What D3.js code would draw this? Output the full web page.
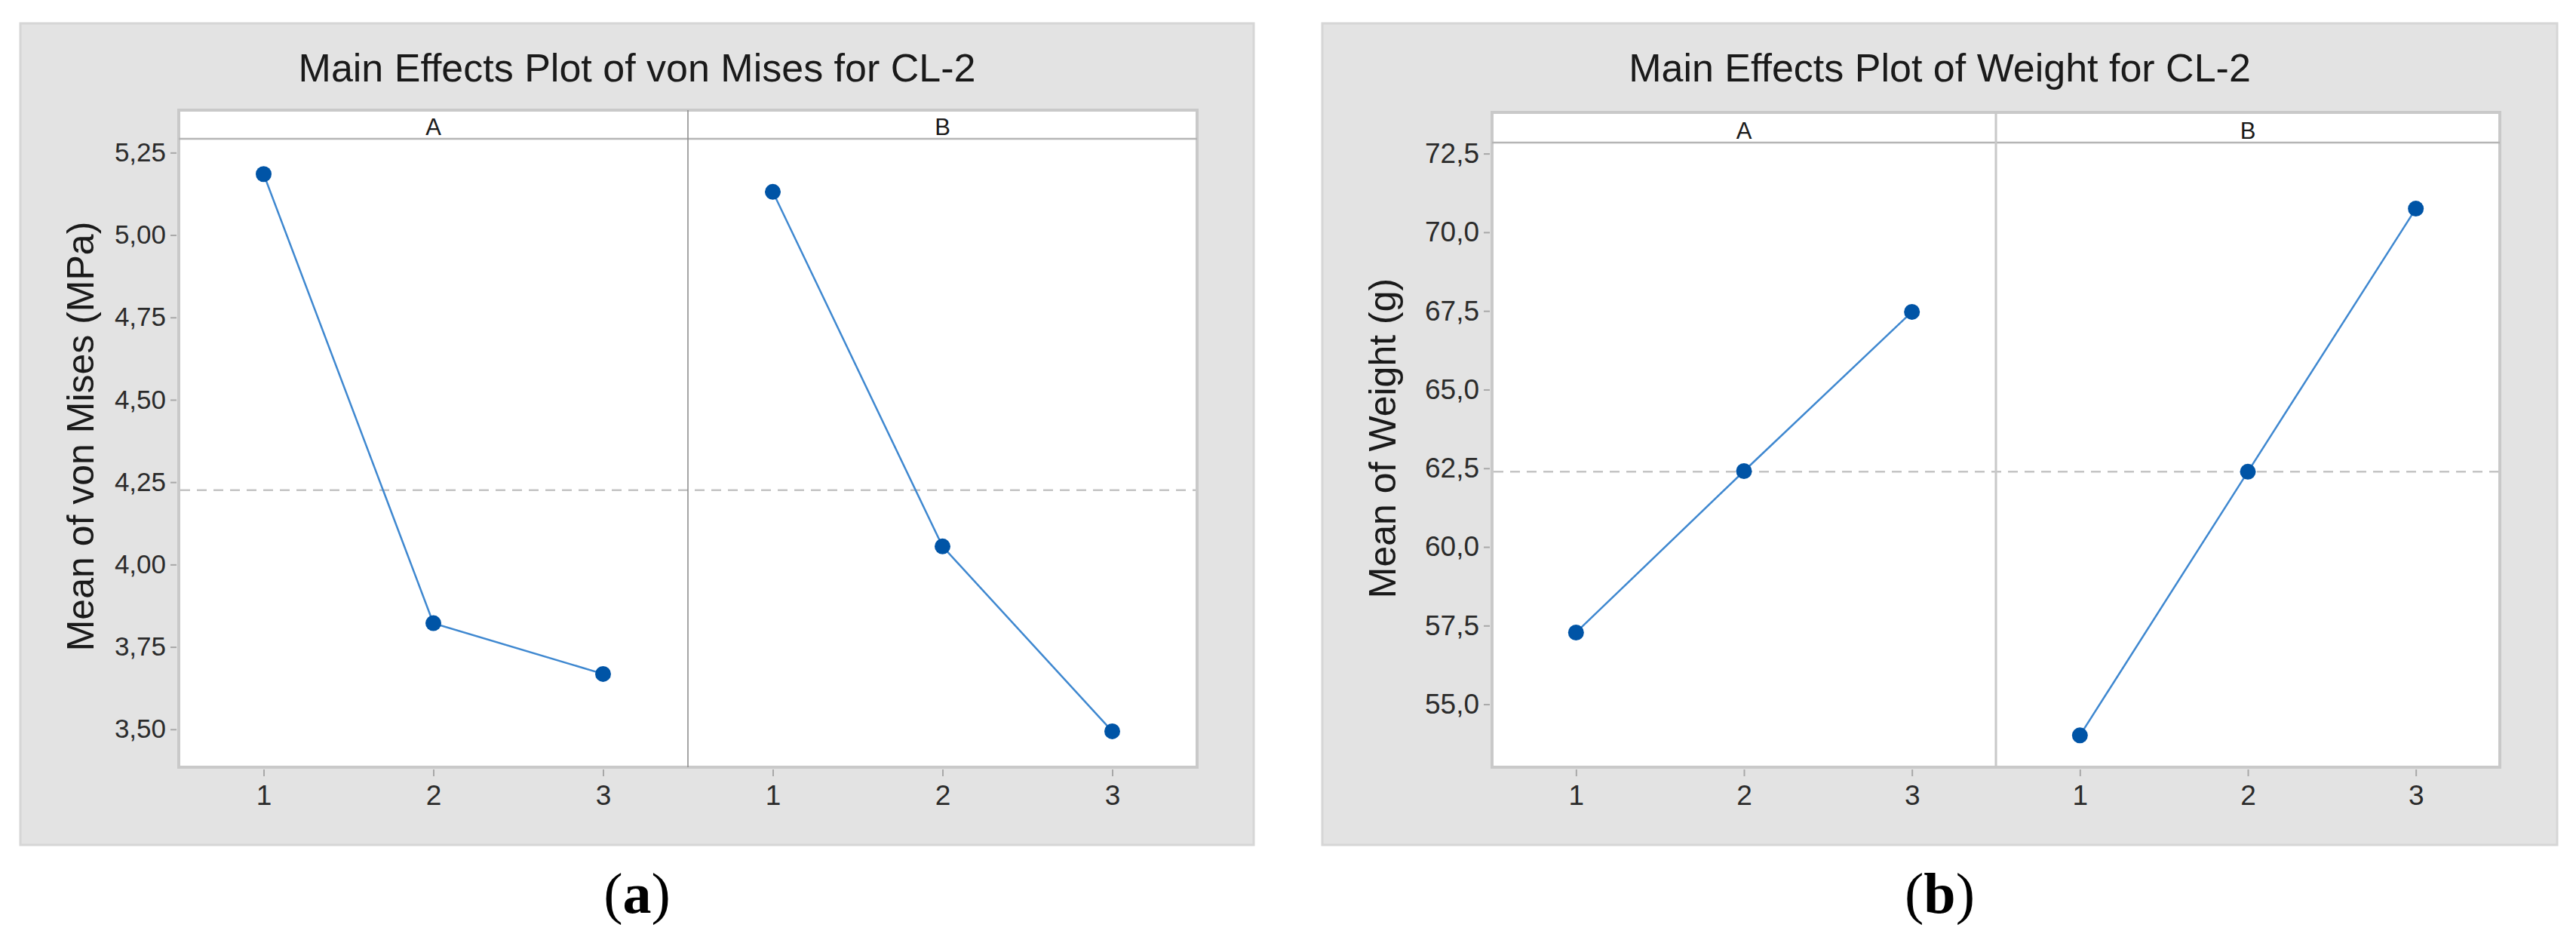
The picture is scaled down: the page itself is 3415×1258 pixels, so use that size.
<!DOCTYPE html>
<html>
<head>
<meta charset="utf-8">
<script src="https://cdn.jsdelivr.net/npm/d3@7"></script>
<style>
  html, body { margin: 0; padding: 0; background: #ffffff; }
  svg { display: block; }
</style>
</head>
<body>
<svg id="chart" width="3415" height="1258"></svg>
<script>
// ---------------- data ----------------
const levels = ["1", "2", "3"];
const factors = ["A", "B"];

const vonMisesTitle = "Main Effects Plot of von Mises for CL-2";
const vonMisesLabel = "Mean of von Mises (MPa)";
const vonMisesA = [5.185, 3.822, 3.668];
const vonMisesB = [5.131, 4.055, 3.494];
const vonMisesMean = 4.226;
const vonMisesTicks = [3.50, 3.75, 4.00, 4.25, 4.50, 4.75, 5.00, 5.25];

const weightTitle = "Main Effects Plot of Weight for CL-2";
const weightLabel = "Mean of Weight (g)";
const weightA = [57.28, 62.41, 67.47];
const weightB = [54.01, 62.39, 70.75];
const weightMean = 62.39;
const weightTicks = [55.0, 57.5, 60.0, 62.5, 65.0, 67.5, 70.0, 72.5];

const panelTags = ["a", "b"];

// ---------------- layout ----------------
const loc = d3.formatLocale({decimal: ",", thousands: ".", grouping: [3], currency: ["", ""]});

const panels = [
  {
    title: vonMisesTitle, ylabel: vonMisesLabel, series: [vonMisesA, vonMisesB], mean: vonMisesMean,
    ticks: vonMisesTicks, fmt: loc.format(".2f"), tag: panelTags[0],
    box: {l: 27, r: 1662, t: 31, b: 1120},
    frame: {l: 237, r: 1587, t: 146, strip: 184, b: 1017},
    domain: [3.385, 5.292], tickFont: 35, divColor: "#8f8f8f", divWidth: 1.6
  },
  {
    title: weightTitle, ylabel: weightLabel, series: [weightA, weightB], mean: weightMean,
    ticks: weightTicks, fmt: loc.format(".1f"), tag: panelTags[1],
    box: {l: 1753, r: 3390, t: 31, b: 1120},
    frame: {l: 1978, r: 3314, t: 149, strip: 189, b: 1017},
    domain: [53.0, 72.85], tickFont: 37, divColor: "#c8c8c8", divWidth: 3
  }
];

const svg = d3.select("#chart");
const sans = "'Liberation Sans', Arial, Helvetica, sans-serif";

panels.forEach(p => {
  const g = svg.append("g");
  const B = p.box, F = p.frame;

  // gray background panel
  g.append("rect")
    .attr("x", B.l).attr("y", B.t)
    .attr("width", B.r - B.l).attr("height", B.b - B.t)
    .attr("fill", "#e3e3e3").attr("stroke", "#d6d6d6").attr("stroke-width", 3);

  // title
  g.append("text")
    .attr("x", (B.l + B.r) / 2).attr("y", 108)
    .attr("text-anchor", "middle")
    .attr("font-family", sans).attr("font-size", 52)
    .attr("fill", "#1a1a1a")
    .text(p.title);

  // plot frame (white)
  g.append("rect")
    .attr("x", F.l).attr("y", F.t)
    .attr("width", F.r - F.l).attr("height", F.b - F.t)
    .attr("fill", "#ffffff").attr("stroke", "#c9c9c9").attr("stroke-width", 4);

  // strip bottom line
  g.append("line")
    .attr("x1", F.l).attr("x2", F.r).attr("y1", F.strip).attr("y2", F.strip)
    .attr("stroke", "#b5b5b5").attr("stroke-width", 2.5);

  const mid = (F.l + F.r) / 2;

  // y scale & axis
  const y = d3.scaleLinear().domain(p.domain).range([F.b, F.strip]);
  const yAxis = g.append("g")
    .attr("transform", `translate(${F.l - 3},0)`)
    .call(d3.axisLeft(y).tickValues(p.ticks).tickFormat(p.fmt).tickSize(8).tickPadding(6));
  yAxis.select(".domain").remove();
  yAxis.selectAll(".tick line").attr("stroke", "#a8a8a8").attr("stroke-width", 2);
  yAxis.selectAll(".tick text")
    .attr("font-family", sans).attr("font-size", p.tickFont).attr("fill", "#2b2b2b");

  // y label
  g.append("text")
    .attr("transform", `translate(${B.l + 97},${(F.strip + F.b) / 2 - 22}) rotate(-90)`)
    .attr("text-anchor", "middle")
    .attr("font-family", sans).attr("font-size", 50)
    .attr("fill", "#1a1a1a")
    .text(p.ylabel);

  // mean reference line (dashed)
  g.append("line")
    .attr("x1", F.l + 2).attr("x2", F.r - 2)
    .attr("y1", y(p.mean)).attr("y2", y(p.mean))
    .attr("stroke", "#c4c4c4").attr("stroke-width", 2.5)
    .attr("stroke-dasharray", "13 9");

  // divider between facets
  g.append("line")
    .attr("x1", mid).attr("x2", mid).attr("y1", F.t).attr("y2", F.b)
    .attr("stroke", p.divColor).attr("stroke-width", p.divWidth);

  factors.forEach((f, i) => {
    const x0 = i === 0 ? F.l : mid;
    const x1 = i === 0 ? mid : F.r;
    const x = d3.scalePoint().domain(levels).range([x0, x1]).padding(0.5);

    // strip label
    g.append("text")
      .attr("x", (x0 + x1) / 2).attr("y", F.strip - 5)
      .attr("text-anchor", "middle")
      .attr("font-family", sans).attr("font-size", 31)
      .attr("fill", "#1a1a1a")
      .text(f);

    // x axis
    const xAxis = g.append("g")
      .attr("transform", `translate(0,${F.b + 3})`)
      .call(d3.axisBottom(x).tickSize(9).tickPadding(12));
    xAxis.select(".domain").remove();
    xAxis.selectAll(".tick line").attr("stroke", "#a8a8a8").attr("stroke-width", 2);
    xAxis.selectAll(".tick text")
      .attr("font-family", sans).attr("font-size", 37).attr("fill", "#2b2b2b");

    const vals = p.series[i];
    const pts = levels.map((l, k) => [x(l), y(vals[k])]);

    g.append("path")
      .attr("d", d3.line()(pts))
      .attr("fill", "none").attr("stroke", "#3f88d0").attr("stroke-width", 2.5);

    g.selectAll(null).data(levels).enter().append("circle")
      .attr("cx", d => x(d))
      .attr("cy", (d, k) => y(vals[k]))
      .attr("r", 10.5)
      .attr("fill", "#0054a6");
  });

  // panel tag (a)/(b)
  const tag = svg.append("text")
    .attr("x", (B.l + B.r) / 2).attr("y", 1210)
    .attr("text-anchor", "middle")
    .attr("font-family", "'Liberation Serif', 'Times New Roman', serif")
    .attr("font-size", 76)
    .attr("fill", "#000");
  tag.append("tspan").text("(");
  tag.append("tspan").attr("font-weight", "bold").text(p.tag);
  tag.append("tspan").text(")");
});
</script>
</body>
</html>
